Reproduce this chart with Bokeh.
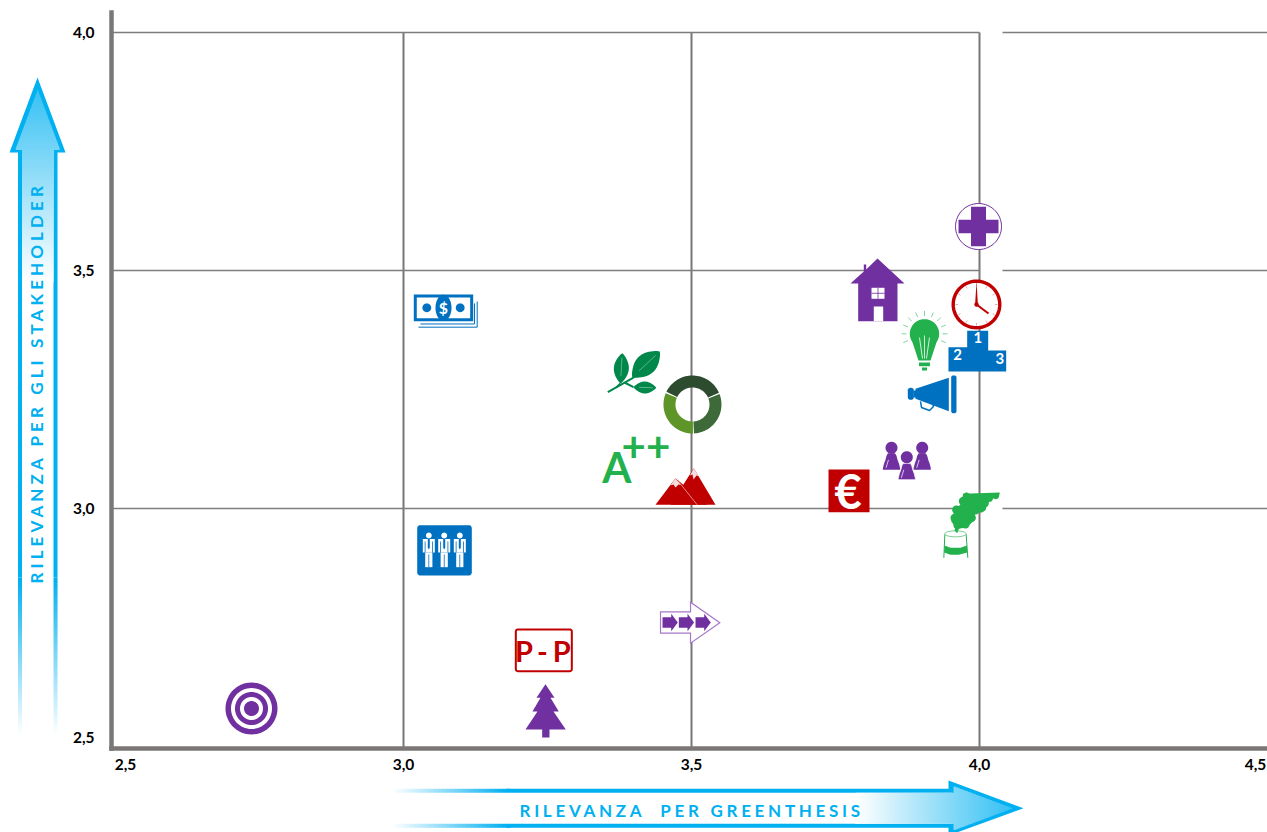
import math
import numpy as np
from bokeh.document import Document
from bokeh.embed import file_html
from bokeh.models import CustomJS, FixedTicker
from bokeh.plotting import figure
from bokeh.resources import INLINE
from bokeh.core.properties import value

# ---- data ----
ICON_NAMES = ["target", "money", "suits", "pp", "tree", "arrow", "leaves", "ring", "app", "mountains",
              "euro", "people", "smoke", "megaphone", "podium", "bulb", "clock", "house", "cross"]
ICON_X = [2.7361, 3.0729, 3.0712, 3.2431, 3.2465, 3.4983, 3.3993, 3.5017, 3.4010, 3.4913,
          3.7726, 3.8750, 3.9809, 3.9184, 3.9965, 3.9045, 3.9948, 3.8229, 3.9983]
ICON_Y = [2.5798, 3.4160, 2.9118, 2.7017, 2.5735, 2.7605, 3.2878, 3.2185, 3.1008, 3.0504,
          3.0378, 3.1008, 2.9643, 3.2395, 3.3298, 3.3424, 3.4286, 3.4580, 3.5924]
X_TICKS = [2.5, 3.0, 3.5, 4.0, 4.5]
X_TICK_LABELS = ["2,5", "3,0", "3,5", "4,0", "4,5"]
Y_TICKS = [2.5, 3.0, 3.5, 4.0]
Y_TICK_LABELS = ["2,5", "3,0", "3,5", "4,0"]
GRID_X = [3.0, 3.5, 4.0]
GRID_Y = [3.0, 3.5, 4.0]
X_TITLE = "RILEVANZA  PER GREENTHESIS"
Y_TITLE = "RILEVANZA PER GLI STAKEHOLDER"
PP_TEXT = "P - P"

PURPLE, BLUE, RED, GREEN, CYAN, GREY = "#7030a0", "#0070c0", "#c00000", "#22b14c", "#00b0f0", "#7b7777"

# ---- layout (page pixels) ----
PX, PY = 1 / 576, 1 / 476                 # data units per pixel
def dx(px): return 3 + (px - 403) * PX    # page pixel -> data
def dy(px): return 3 + (508 - px) * PY

p = figure(width=1267, height=832, output_backend="svg", toolbar_location=None,
           x_range=(dx(0), dx(1267)), y_range=(dy(832), dy(0)),
           min_border_left=0, min_border_right=0, min_border_top=0, min_border_bottom=0,
           background_fill_color="white", border_fill_color="white", outline_line_color=None)
p.grid.visible = False

x_nudge = {2.5: 10, 4.5: -12}
y_nudge = {2.5: 9}
x_pos = [round(t + x_nudge.get(t, 0) * PX, 4) for t in X_TICKS]
y_pos = [round(t + y_nudge.get(t, 0) * PY, 4) for t in Y_TICKS]
for ax, pos, labels, standoff in ((p.xaxis[0], x_pos, X_TICK_LABELS, 4), (p.yaxis[0], y_pos, Y_TICK_LABELS, 11)):
    ax.ticker = FixedTicker(ticks=pos)
    ax.major_label_overrides = dict(zip(pos, labels))
    ax.major_tick_line_color = None
    ax.minor_tick_line_color = None
    ax.axis_line_color = GREY
    ax.axis_line_width = 4.5
    ax.axis_line_cap = "square"
    ax.major_label_text_font = "Lato"
    ax.major_label_text_font_style = "bold"
    ax.major_label_text_font_size = "15.5px"
    ax.major_label_text_color = "black"
    ax.major_label_standoff = standoff
p.yaxis[0].major_label_orientation = "horizontal"
p.xaxis[0].fixed_location = dy(748)
p.yaxis[0].fixed_location = dx(111)
p.xaxis[0].bounds = (dx(111), dx(1267))
p.yaxis[0].bounds = (dy(748), dy(12))

# grid, with its gap right of 4,0
gap_x = dx(1002)
p.segment(x0=GRID_X, x1=GRID_X, y0=[dy(748)] * 3, y1=[4.0] * 3, line_color=GREY, line_width=2)
p.segment(x0=[dx(111)] * 3, x1=[4.0] * 3, y0=GRID_Y, y1=GRID_Y, line_color="#807d7d", line_width=1.6)
p.segment(x0=[gap_x] * 3, x1=[dx(1267)] * 3, y0=GRID_Y, y1=GRID_Y, line_color="#807d7d", line_width=1.6)

# ---- shape helpers: icon outlines in pixels around the icon's data point ----
def shape(ax, ay, pts):
    return [ax + q[0] * PX for q in pts], [ay - q[1] * PY for q in pts]
def P(ax, ay, pts, color, line=None, lw=1.0):
    xs, ys = shape(ax, ay, pts)
    p.patch(xs, ys, fill_color=color, line_color=line, line_width=lw, line_join="miter")
def L(ax, ay, pts, color, lw=1.0, alpha=1.0):
    xs, ys = shape(ax, ay, pts)
    p.line(xs, ys, line_color=color, line_width=lw, line_alpha=alpha)
def T(ax, ay, ox, oy, text, color, size, baseline="middle", align="center", font="Lato", angle=0.0):
    p.text([ax + ox * PX], [ay - oy * PY], text=[text], text_color=color, text_font=value(font), angle=angle,
           text_font_style="bold", text_font_size=f"{size}px", text_align=align, text_baseline=baseline)
def circ(r, cx=0.0, cy=0.0, ry=None, n=60):
    ry = r if ry is None else ry
    return [(cx + r * math.cos(a), cy + ry * math.sin(a)) for a in np.linspace(0, 2 * math.pi, n, endpoint=False)]
def rect(x0, y0, x1, y1):
    return [(x0, y0), (x1, y0), (x1, y1), (x0, y1)]
def rrect(x0, y0, x1, y1, r):
    out = []
    for cx, cy, a0 in ((x1 - r, y0 + r, -90), (x1 - r, y1 - r, 0), (x0 + r, y1 - r, 90), (x0 + r, y0 + r, 180)):
        for a in range(a0, a0 + 91, 15):
            out.append((cx + r * math.cos(math.radians(a)), cy + r * math.sin(math.radians(a))))
    return out
def leaf(p0, p1, w, n=24):
    ux, uy = p1[0] - p0[0], p1[1] - p0[1]
    ln = math.hypot(ux, uy); nx, ny = -uy / ln, ux / ln
    ts = np.linspace(0, 1, n)
    a = [(p0[0] + ux * t + nx * w * math.sin(math.pi * t) ** 0.8, p0[1] + uy * t + ny * w * math.sin(math.pi * t) ** 0.8) for t in ts]
    b = [(p0[0] + ux * t - nx * w * math.sin(math.pi * t) ** 0.8, p0[1] + uy * t - ny * w * math.sin(math.pi * t) ** 0.8) for t in ts[::-1]]
    return a + b

# ---- icons ----
def target(x, y):
    for r, c in ((26, PURPLE), (20.5, "white"), (16.5, PURPLE), (11.5, "white"), (7.5, PURPLE)):
        P(x, y, circ(r), c)

def money(x, y):
    L(x, y, [(-27, 16.7), (31.7, 16.7), (31.7, -9)], BLUE, 1.0)
    L(x, y, [(-25, 13.5), (29, 13.5), (29, -7)], BLUE, 1.0)
    P(x, y, rect(-31.7, -16, 27.7, 10.7), BLUE)
    P(x, y, rect(-28.7, -13, 24.7, 7.7), "white")
    P(x, y, circ(8, -2, -2.7, ry=13), BLUE)
    P(x, y, circ(4.4, -18.7, -2.7), BLUE)
    P(x, y, circ(4.4, 14.7, -2.7), BLUE)
    T(x, y, -2, -2.7, "$", "white", 16)

def suits(x, y):
    P(x, y, rrect(-27.3, -25.3, 27.3, 25, 3), BLUE)
    for c in (-15.7, -0.3, 15.3):
        P(x, y, circ(2.9, c, -15), "white")
        P(x, y, rect(c - 6, -11.5, c + 6, 2), "white")
        P(x, y, rect(c - 4.1, -9, c - 3.3, 2.5), BLUE)
        P(x, y, rect(c + 3.3, -9, c + 4.1, 2.5), BLUE)
        P(x, y, rect(c - 3.6, 2, c + 3.6, 16.7), "white")
        P(x, y, rect(c - 0.4, 4, c + 0.4, 16.7), BLUE)
        P(x, y, [(c - 1, -11.5), (c + 1, -11.5), (c + 1, -3), (c, -1), (c - 1, -3)], BLUE)

def pp(x, y):
    P(x, y, rrect(-27.7, -21, 28.3, 20.7, 2), "white", RED, 2)
    T(x, y, 2, 0, PP_TEXT, RED, 29)

def tree(x, y):
    P(x, y, [(0, -27.3), (9, -13.7), (5, -13.7), (13.3, 0), (8, 0), (20.3, 18), (4, 18), (4, 26), (-3.3, 26),
             (-3.3, 18), (-20, 18), (-8, 0), (-13, 0), (-5, -13.7), (-9, -13.7)], PURPLE)

def arrow(x, y):
    P(x, y, [(-30, -10.7), (0, -10.7), (0, -20.3), (29.3, 0.3), (0, 20.7), (0, 10.7), (-30, 10.7)], "white", "#a678c8", 1.2)
    for d in (0, 16.3, 33):
        P(x, y, [(-28 + d, -5.3), (-19.3 + d, -5.3), (-19.3 + d, -8.7), (-12.7 + d, 0), (-19.3 + d, 8.7), (-19.3 + d, 5.3), (-28 + d, 5.3)], PURPLE)

def leaves(x, y):
    c = "#00884b"
    L(x, y, [(-25.7, 20.7), (0, 6), (12, -3)], c, 2)
    L(x, y, [(-17, 15.7), (-13, 12)], c, 2)
    L(x, y, [(-9, 11), (0, 15.7)], c, 2)
    for a, b, w in (((-13, 12), (-11.3, -18.3), 7.5), ((-1.3, 5.7), (26.3, -20), 10.5), ((0, 15.7), (22.7, 16.3), 6)):
        P(x, y, leaf(a, b, w), c)
        L(x, y, [(a[0] + (b[0] - a[0]) * .25, a[1] + (b[1] - a[1]) * .25), (a[0] + (b[0] - a[0]) * .85, a[1] + (b[1] - a[1]) * .85)], "white", .6, .6)

def ring(x, y):
    for a0, a1, c in ((24, 154, "#2d4b2e"), (-87, 21, "#3d6a38"), (157, 271, "#5e9528")):
        ang = np.radians(np.linspace(a0, a1, 40))
        pts = [(29 * math.cos(a), -29 * math.sin(a)) for a in ang] + [(17 * math.cos(a), -17 * math.sin(a)) for a in ang[::-1]]
        P(x, y, pts, c)

def app(x, y):
    T(x, y, -17.7, 6.5, "A", GREEN, 42)
    T(x, y, 11.5, -14, "++", GREEN, 42)

def mountains(x, y):
    P(x, y, [(7.3, -16.3), (-16, 20.3), (29, 20.3)], RED)
    P(x, y, [(-11, -6.3), (-31, 20.3), (21, 20.3)], RED)
    P(x, y, [(7.3, -16.3), (3.5, -9), (6, -10), (7, -5), (10, -9), (12, -8.5)], "#f7dede")
    P(x, y, [(-11, -6.3), (-16, 1), (-13, 0), (-11, 3), (-8, 0), (-5.5, 0.5)], "#f7dede")
    L(x, y, [(-8, -3), (10.7, 20.3)], "#f2c4c4", .7)

def euro(x, y):
    P(x, y, rect(-20, -21, 21, 21.7), RED)
    T(x, y, -0.5, 0, "€", "white", 47)

def people(x, y):
    for c, by, hy, edge in ((-16, 9.3, -12.7, None), (14.7, 9.3, -12.7, None), (-0.7, 19.3, -3.3, "white")):
        pts = [(-8.7, 0), (-8.5, -2), (-7.5, -6), (-6, -10), (-5, -14), (-3.5, -16.5)]
        P(x, y, [(c + a, by + b) for a, b in pts] + [(c - a, by + b) for a, b in pts[::-1]], PURPLE, edge, .8)
        P(x, y, circ(6, c, hy), PURPLE)
        L(x, y, [(c - 5.5, by - 2), (c - 3, by - 10)], "#d9c4ea", 1)

def smoke(x, y):
    z = lambda pts: [(a / 3 - 158, b / 3 - 95) for a, b in pts]
    P(x, y, z([(568, 186), (565, 200), (545, 205), (530, 220), (525, 240), (495, 245), (490, 270), (470, 290),
               (445, 295), (440, 308), (432, 300), (435, 290), (422, 272), (432, 240), (452, 220), (458, 190)]), GREEN)
    for a, b, r in ((556, 197, 9), (538, 205, 9), (522, 218, 13), (512, 235, 11), (495, 240, 12), (483, 262, 13),
                    (465, 282, 12), (440, 285, 11), (432, 262, 12), (438, 238, 13), (458, 212, 13), (468, 196, 10)):
        P(x, y, z(circ(r, a, b)), GREEN)
    L(x, y, z([(403, 312), (400, 382)]), GREEN, 1)
    L(x, y, z([(467, 312), (472, 382)]), GREEN, 1)
    L(x, y, z([(a, b) for a, b in circ(32, 435, 310, ry=9)] + [(467, 310)]), GREEN, .8, .8)
    P(x, y, z([(402, 345), (420, 352), (450, 352), (469, 345), (470, 366), (445, 373), (420, 373), (401, 366)]), GREEN)

def megaphone(x, y):
    P(x, y, [(-17, -5.7), (16.3, -16.7), (16.3, 16.7), (-17, 4.3)], BLUE)
    P(x, y, rrect(18.7, -19, 24, 18.7, 2), BLUE)
    P(x, y, rrect(-24.7, -6.7, -18.7, 5.3, 2.5), BLUE)
    P(x, y, rect(-19, -4, -16, 3), BLUE)
    L(x, y, [(-12, 7), (-11, 13), (-3, 16), (1, 12), (0, 9)], BLUE, 1.5)

def podium(x, y):
    P(x, y, [(-29, 20), (28.7, 20), (28.7, -1), (10.7, -1), (10.7, -20.7), (-10.3, -20.7), (-10.3, -4.3), (-29, -4.3)], BLUE)
    T(x, y, 0.3, -14, "1", "white", 15)
    T(x, y, -20, 3, "2", "white", 15)
    T(x, y, 22.3, 7, "3", "white", 15)

def bulb(x, y):
    ang = np.radians(np.linspace(-35, 215, 40))
    pts = [(14.7 * math.cos(a), -11.7 - 14.7 * math.sin(a)) for a in ang]
    P(x, y, pts + [(-6, 15), (6, 15)], GREEN)
    for a, b in (((-2, 13), (-5, -8)), ((0, 13), (0, -10)), ((2, 13), (5, -8))):
        L(x, y, [a, b], "white", .8)
    P(x, y, rect(-5.5, 17, 5.5, 20.7), GREEN)
    P(x, y, rect(-2.5, 22, 2.5, 25), GREEN)
    for a in np.radians(np.arange(-22.5, 203, 22.5)):
        L(x, y, [(18 * math.cos(a), -11.7 - 18 * math.sin(a)), (23 * math.cos(a), -11.7 - 23 * math.sin(a))], "#7fd69b", 1)

def clock(x, y):
    P(x, y, circ(23.3), "white", RED, 3.4)
    for a in np.radians(np.arange(0, 360, 30)):
        L(x, y, [(18.5 * math.cos(a), 18.5 * math.sin(a)), (21 * math.cos(a), 21 * math.sin(a))], "#eaa9a9", 1)
    P(x, y, [(-1.4, 0), (0, -23), (1.4, 0)], RED)
    L(x, y, [(0, 0), (12, 9)], RED, 2)
    P(x, y, circ(2.2), RED)

def house(x, y):
    P(x, y, [(0, -32), (27, -7), (20, -7), (20, 30.7), (-19.3, 30.7), (-19.3, -7), (-27, -7), (-13.7, -19),
             (-13.7, -26), (-11.3, -26), (-11.3, -21)], PURPLE)
    P(x, y, rect(-6, -2.7, 7, 8.3), "white")
    L(x, y, [(0.5, -2.7), (0.5, 8.3)], PURPLE, .8)
    L(x, y, [(-6, 2.8), (7, 2.8)], PURPLE, .8)
    P(x, y, rect(-3.7, 16, 5.7, 30.7), "white")

def cross(x, y):
    P(x, y, circ(23), "white", PURPLE, 1)
    P(x, y, rect(-7.5, -19.7, 7.5, 19.7), PURPLE)
    P(x, y, rect(-20, -6.7, 20, 6.7), PURPLE)

for name, xv, yv in zip(ICON_NAMES, ICON_X, ICON_Y):
    globals()[name](xv, yv)

# ---- gradient arrows ----
def mix(t):
    return "#%02x%02x%02x" % tuple(round(255 + (c - 255) * t) for c in (0x00, 0xb0, 0xf0))
O = (dx(0), dy(0))   # offsets below are page pixels from the top-left corner
def A(pts, color):
    P(O[0], O[1], pts, color)
def slices(rows):
    # rows: (left, top, right, bottom, t) in page pixels
    p.quad(left=[dx(r[0]) for r in rows], right=[dx(r[2]) for r in rows], top=[dy(r[1]) for r in rows],
           bottom=[dy(r[3]) for r in rows], fill_color=[mix(r[4]) for r in rows], line_color=None)

# vertical arrow
A([(37, 77), (65, 152), (57, 152), (57, 577), (17.5, 577), (17.5, 152), (9, 152)], CYAN)
slices([(17.5, yy, 57, yy + 4.5, max(0.0, 1 - (yy - 577) / 155)) for yy in range(577, 736, 4)])
A(rect(21.5, 148, 53, 740), "white")
rows = []
for yy in np.arange(89, 280, 2):
    hw = min((yy + 1 - 89) * 28 / 75, 22.0) if yy < 148 else 15.75
    rows.append((37.25 - hw, yy, 37.25 + hw, yy + 2.5, 0.78 * (1 - (yy - 89) / 191)))
slices(rows)

# horizontal arrow
A([(1023, 807.8), (948, 780), (948, 788.3), (506, 788.3), (506, 827.3), (948, 827.3), (948, 835)], CYAN)
slices([(xx, 788.3, xx + 4.5, 827.3, (xx - 390) / 116) for xx in range(390, 507, 4)])
A(rect(385, 792.3, 952, 823.3), "white")
rows = []
for xx in np.arange(855, 1012, 2):
    hw = min((1011 - xx) * 28 / 75, 22.0) if xx > 952 else 15.5
    rows.append((xx, 807.8 - hw, xx + 2.5, 807.8 + hw, 0.8 * (xx - 855) / 157))
slices(rows)

T(O[0], O[1], 36, 583, Y_TITLE, CYAN, 17, align="left", angle=math.pi / 2)
T(O[0], O[1], 519, 810, X_TITLE, CYAN, 17, align="left")

# Some texts are tracked: Bokeh has no property for that, so set it on the SVG texts.
spacing = CustomJS(args=dict(spec={Y_TITLE: "4.1px", X_TITLE: "3.7px", PP_TEXT: "-1.1px"}), code="""
function walk(root) {
  root.querySelectorAll('*').forEach((e) => {
    if (e.tagName.toLowerCase() === 'text' && spec[e.textContent]) {
      e.setAttribute('letter-spacing', spec[e.textContent]);
      e.style.whiteSpace = 'pre';
    }
    if (e.shadowRoot) walk(e.shadowRoot);
  });
}
let n = 0;
const id = setInterval(() => { walk(document); if (++n > 40) clearInterval(id); }, 50);
walk(document);
""")
doc = Document()
doc.add_root(p)
doc.js_on_event("document_ready", spacing)

open("out.html", "w").write(file_html(p, INLINE))
